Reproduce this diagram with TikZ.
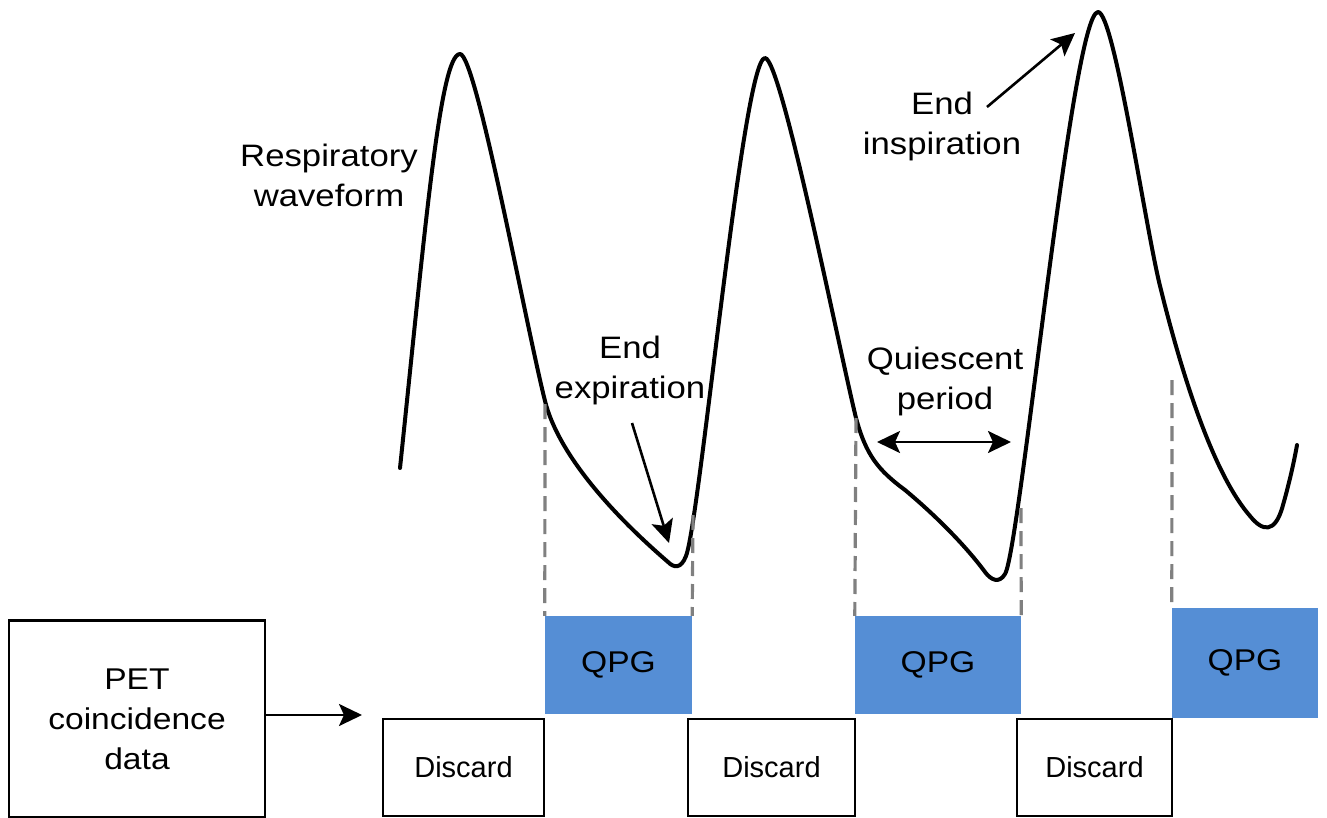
\documentclass[tikz,border=0pt]{standalone}
\usepackage{fontspec}
\setmainfont{Liberation Sans}
\newfontfamily\lblfont[FakeStretch=1.12]{Liberation Sans}
\usetikzlibrary{arrows.meta}
\definecolor{qpgblue}{RGB}{85,142,213}
\definecolor{dashgray}{RGB}{128,128,128}
\begin{document}
\begin{tikzpicture}[x=1pt,y=-1pt,
  wave/.style={line width=4pt, line join=round, line cap=round},
  lbl/.style={font=\lblfont\fontsize{31}{40}\selectfont, align=center, inner sep=0pt, anchor=base},
  qpgbox/.style={fill=qpgblue, draw=none, inner sep=0pt, font=\lblfont\fontsize{30}{36}\selectfont},
  discardbox/.style={draw, line width=2.6pt, inner sep=0pt, font=\fontsize{29}{34}\selectfont},
  petbox/.style={draw, line width=2.6pt, inner sep=0pt, align=center, font=\lblfont\fontsize{30}{40}\selectfont},
  arr/.style={line width=2.6pt, -{Stealth[length=23pt,width=22pt,inset=5pt]}},
  dblarr/.style={line width=2.6pt, {Stealth[length=23pt,width=22pt,inset=5pt]}-{Stealth[length=23pt,width=22pt,inset=5pt]}},
  guide/.style={dashgray, line width=3.2pt, dash pattern=on 15pt off 8pt}]
\fill[white] (0,0) rectangle (1327,818);
\useasboundingbox (0,0) rectangle (1327,818);

% respiratory waveform
\draw[wave] (400,468)
  .. controls (425,230) and (440,54) .. (460,54)
  .. controls (476,54) and (525,321) .. (545,401)
  .. controls (558,453) and (610,512) .. (668,562)
  .. controls (674,568) and (681,569) .. (686,556)
  .. controls (700,520) and (743,58) .. (765,58)
  .. controls (781,58) and (838,344) .. (856,418)
  .. controls (866,455) and (878,470) .. (905,490)
  .. controls (935,515) and (965,545) .. (985,572)
  .. controls (991,580) and (999,584) .. (1005,574)
  .. controls (1020,550) and (1072,12) .. (1098,12)
  .. controls (1114,12) and (1145,225) .. (1160,286)
  .. controls (1178,359) and (1210,470) .. (1250,516)
  .. controls (1262,531) and (1275,535) .. (1283,505)
  .. controls (1289,484) and (1294,462) .. (1297,445);

% points where the gates begin
\coordinate (g1) at (545,404);
\coordinate (g2) at (693,515);
\coordinate (g3) at (856,418);
\coordinate (g4) at (1021,508);
\coordinate (g5) at (1172,380);

% gate boxes
\node[qpgbox, minimum width=147pt, minimum height=98pt] (qpg1) at (618.5,665) {QPG};
\node[qpgbox, minimum width=166pt, minimum height=98pt] (qpg2) at (938,665) {QPG};
\node[qpgbox, minimum width=146pt, minimum height=110pt] (qpg3) at (1245,663) {QPG};

\node[discardbox, minimum width=161pt, minimum height=97pt] (dis1) at (463.5,767.5) {Discard};
\node[discardbox, minimum width=167pt, minimum height=97pt] (dis2) at (771.5,767.5) {Discard};
\node[discardbox, minimum width=155pt, minimum height=97pt] (dis3) at (1094.5,767.5) {Discard};

\node[petbox, minimum width=256pt, minimum height=197pt] (pet) at (137,719) {PET\\coincidence\\data};

% dashed gate lines
\draw[guide] (g1) -- (qpg1.north west);
\draw[guide] (g2) -- (qpg1.north east);
\draw[guide] (g3) -- (qpg2.north west);
\draw[guide] (g4) -- (qpg2.north east);
\draw[guide] (g5) -- (qpg3.north west);

% labels (anchored at the baseline of their last line)
\node[lbl] (resp) at (329,207) {Respiratory\\waveform};
\node[lbl] (endexp) at (630,398) {End\\expiration};
\node[lbl] (quies) at (945,409) {Quiescent\\period};
\node[lbl] (endinsp) at (942,155) {End\\inspiration};

% arrows
\coordinate (parr) at (362,715);
\draw[arr] (pet.east |- parr) -- (parr);
\coordinate (ee1) at (632,423);
\coordinate (ee2) at (669,543);
\draw[arr] (ee1) -- (ee2);
\coordinate (ei1) at (987,107);
\coordinate (ei2) at (1075,33);
\draw[arr] (ei1) -- (ei2);
\coordinate (q1) at (877,442);
\coordinate (q2) at (1011,442);
\draw[dblarr] (q1) -- (q2);
\end{tikzpicture}
\end{document}
